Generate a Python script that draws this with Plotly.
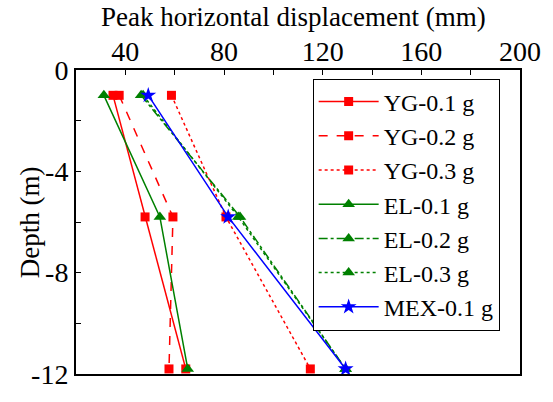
import plotly.graph_objects as go

depth = [-1, -5.8, -11.8]
series_names = ["YG-0.1 g", "YG-0.2 g", "YG-0.3 g", "EL-0.1 g", "EL-0.2 g", "EL-0.3 g", "MEX-0.1 g"]
yg01 = [35, 48, 64.5]
yg02 = [37.5, 59.3, 57.7]
yg03 = [58.7, 80.8, 115]
el01 = [31.3, 54, 65.3]
el02 = [46.4, 86.5, 129.3]
el03 = [47.2, 85.8, 129.3]
mex01 = [49.3, 81.7, 129.3]

x_ticks = [40, 80, 120, 160, 200]
y_ticks = [0, -4, -8, -12]
y_ticklabels = ["0", "-4", "-8", "-12"]

values = [yg01, yg02, yg03, el01, el02, el03, mex01]
colors = ["#ff0000", "#ff0000", "#ff0000", "#008000", "#008000", "#008000", "#0000ff"]
dashes = ["solid", "dash", "dot", "solid", "dashdot", "dot", "solid"]
symbols = ["square", "square", "square", "triangle-up", "triangle-up", "triangle-up", "star"]
sizes = [9, 9, 9, 11, 11, 11, 12]

fig = go.Figure()
for name, v, c, d, s, sz in zip(series_names, values, colors, dashes, symbols, sizes):
    fig.add_trace(go.Scatter(
        x=v, y=depth, name=name, mode="lines+markers",
        line=dict(color=c, dash=d, width=1.5),
        marker=dict(symbol=s, size=sz, color=c, line=dict(width=0)),
    ))

font = "Liberation Serif"
FT = dict(family=font, size=28, color="black")
FL = dict(family=font, size=27, color="black")
fig.update_layout(
    width=553, height=402,
    margin=dict(l=76, r=25, t=70, b=12),
    paper_bgcolor="white", plot_bgcolor="white",
    font=FL,
    legend=dict(
        x=0.533, y=0.972, xanchor="left", yanchor="top",
        bordercolor="black", borderwidth=1, bgcolor="white",
        font=dict(family=font, size=24, color="black"), tracegroupgap=0,
        itemwidth=60,
    ),
    xaxis=dict(
        side="top", range=[20, 200], tickvals=x_ticks,
        ticks="inside", ticklen=5, tickwidth=1, tickcolor="black",
        minor=dict(dtick=20, ticks="inside", ticklen=5, tickcolor="black"),
        showline=True, linecolor="black", linewidth=2, mirror=True,
        showgrid=False, zeroline=False,
        tickfont=FT, ticklabeloverflow="allow", ticklabelstandoff=-4,
    ),
    yaxis=dict(
        range=[-12, 0], tickvals=y_ticks, ticktext=y_ticklabels,
        ticks="inside", ticklen=5, tickwidth=1, tickcolor="black",
        minor=dict(tickvals=[-2, -6, -10], ticks="inside", ticklen=5, tickcolor="black"),
        showline=True, linecolor="black", linewidth=2, mirror=True,
        showgrid=False, zeroline=False,
        tickfont=FT, ticklabeloverflow="allow",
    ),
    annotations=[
        dict(
            text="Depth (m)", textangle=-90, showarrow=False,
            xref="paper", yref="paper", x=-0.103, y=0.5,
            xanchor="center", yanchor="middle", font=FL,
        ),
        dict(
            text="Peak horizontal displacement (mm)", showarrow=False,
            xref="paper", yref="paper", x=0.49, y=1.0,
            xanchor="center", yanchor="middle", yshift=53, font=FL,
        ),
    ],
)

fig.write_html("out.html")
